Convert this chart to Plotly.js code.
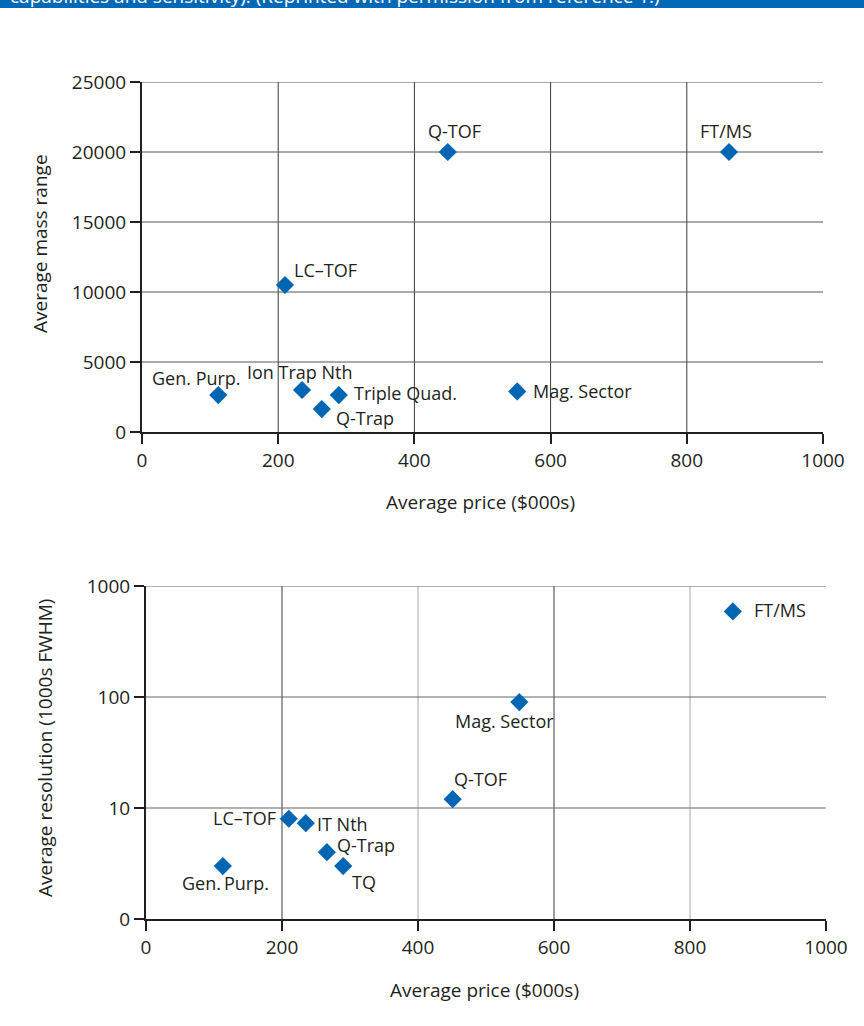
<!DOCTYPE html>
<html>
<head>
<meta charset="utf-8">
<script src="https://cdn.plot.ly/plotly-3.0.1.min.js"></script>
<style>html,body{margin:0;padding:0;background:#fff;}#chart{width:864px;height:1026px;}</style>
</head>
<body>
<div id="chart"></div>
<script>
// ---- Data ----
const topNames = ["Gen. Purp.", "LC\u2013TOF", "Ion Trap Nth", "Triple Quad.", "Q-Trap", "Q-TOF", "Mag. Sector", "FT/MS"];
const topPrice = [112, 210, 235, 289, 264, 449, 551, 862];
const topMassRange = [2640, 10500, 3000, 2640, 1640, 20000, 2900, 20000];

const botNames = ["FT/MS", "Mag. Sector", "Q-TOF", "LC\u2013TOF", "IT Nth", "Q-Trap", "TQ", "Gen.\u2009Purp."];
const botPrice = [863, 549, 451, 210, 235, 266, 290, 113];
const botResolution = [590, 90, 12, 8, 7.3, 4.0, 3.0, 3.0];

const xTickVals = [0, 200, 400, 600, 800, 1000];
const topYTickVals = [0, 5000, 10000, 15000, 20000, 25000];
const topYTickText = ["0", "5000", "10000", "15000", "20000", "25000"];
const botYTickVals = [1, 10, 100, 1000];
const botYTickText = ["0", "10", "100", "1000"];

const bannerText = "capabilities and sensitivity). (Reprinted with permission from reference 1.)";

// label placement (style only)
const topLabelPos = [
  {xa:"center", dx:-22, dy:17},
  {xa:"center", dx:40, dy:15},
  {xa:"center", dx:-2, dy:18},
  {xa:"left", dx:13, dy:2},
  {xa:"left", dx:12, dy:-9},
  {xa:"center", dx:7, dy:21},
  {xa:"left", dx:14, dy:0},
  {xa:"center", dx:-3, dy:21}
];
const botLabelPos = [
  {xa:"left", dx:19, dy:1},
  {xa:"center", dx:-15, dy:-19},
  {xa:"left", dx:-1, dy:20},
  {xa:"right", dx:-11, dy:1},
  {xa:"left", dx:9, dy:-1},
  {xa:"left", dx:8, dy:7},
  {xa:"left", dx:7, dy:-16},
  {xa:"center", dx:3, dy:-17}
];

const FONT = "Open Sans, Noto Sans, sans-serif";
const TXT = "#231f20";
const BLUE = "#0066b3";
const W = 864, H = 1026;
const LBL = 18;

const traces = [
  {x: topPrice, y: topMassRange, xaxis:"x", yaxis:"y", mode:"markers", type:"scatter",
   marker:{symbol:"diamond", size:14, color:BLUE}, hoverinfo:"none", cliponaxis:false},
  {x: botPrice, y: botResolution, xaxis:"x2", yaxis:"y2", mode:"markers", type:"scatter",
   marker:{symbol:"diamond", size:14, color:BLUE}, hoverinfo:"none", cliponaxis:false}
];

const annotations = [];
topNames.forEach((n,i)=>{
  const p = topLabelPos[i];
  annotations.push({x: topPrice[i], y: topMassRange[i], xref:"x", yref:"y", text:n, showarrow:false,
    xanchor:p.xa, yanchor:"middle", xshift:p.dx, yshift:p.dy, font:{family:FONT, size:LBL, color:TXT}});
});
botNames.forEach((n,i)=>{
  const p = botLabelPos[i];
  annotations.push({x: botPrice[i], y: Math.log10(botResolution[i]), xref:"x2", yref:"y2", text:n, showarrow:false,
    xanchor:p.xa, yanchor:"middle", xshift:p.dx, yshift:p.dy, font:{family:FONT, size:LBL, color:TXT}});
});
// axis titles
annotations.push({text:"Average price ($000s)", xref:"paper", yref:"paper", x:480/W, y:1-502/H, showarrow:false,
  xanchor:"center", yanchor:"middle", font:{family:FONT, size:19, color:TXT}});
annotations.push({text:"Average mass range", xref:"paper", yref:"paper", x:40/W, y:1-244/H, showarrow:false,
  textangle:-90, xanchor:"center", yanchor:"middle", font:{family:FONT, size:19, color:TXT}});
annotations.push({text:"Average price ($000s)", xref:"paper", yref:"paper", x:484/W, y:1-990/H, showarrow:false,
  xanchor:"center", yanchor:"middle", font:{family:FONT, size:19, color:TXT}});
annotations.push({text:"Average resolution (1000s FWHM)", xref:"paper", yref:"paper", x:45/W, y:1-748/H, showarrow:false,
  textangle:-90, xanchor:"center", yanchor:"middle", font:{family:FONT, size:19, color:TXT}});
// banner text (cut off at top, as in the reference)
annotations.push({text:bannerText, xref:"paper", yref:"paper", x:8/W, y:1+4/H, showarrow:false,
  xanchor:"left", yanchor:"middle", font:{family:FONT, size:19, color:"#ffffff"}});

const axisCommon = {
  showline:true, linecolor:"#231f20", linewidth:2, ticks:"outside", ticklen:10, tickwidth:2, tickcolor:"#231f20",
  showgrid:false, zeroline:false, tickfont:{family:FONT, size:19, color:TXT}
};

// grid lines derived from the tick arrays
const shapes = [
  {type:"rect", xref:"paper", yref:"paper", x0:0, x1:1, y0:1-8/H, y1:1.01, fillcolor:"#0068b4", line:{width:0}, layer:"below"}
];
xTickVals.slice(1, -1).forEach(v=>{
  shapes.push({type:"line", xref:"x", yref:"y domain", x0:v, x1:v, y0:0, y1:1, line:{color:"#3a3a3a", width:1}, layer:"below"});
});
topYTickVals.slice(1).forEach(v=>{
  shapes.push({type:"line", xref:"x domain", yref:"y", x0:0, x1:1, y0:v, y1:v, line:{color:"#555555", width:1}, layer:"below"});
});
xTickVals.slice(1, -1).forEach((v,i)=>{
  shapes.push({type:"line", xref:"x2", yref:"y2 domain", x0:v, x1:v, y0:0, y1:1,
    line:{color: i % 2 === 0 ? "#3a3a3a" : "#a8a8a8", width:1}, layer:"below"});
});
botYTickVals.slice(1).forEach(v=>{
  shapes.push({type:"line", xref:"x2 domain", yref:"y2", x0:0, x1:1, y0:v, y1:v, line:{color:"#666666", width:1}, layer:"below"});
});

const layout = {
  width: W, height: H,
  margin:{l:0, r:0, t:0, b:0},
  paper_bgcolor:"#ffffff", plot_bgcolor:"#ffffff",
  showlegend:false,
  xaxis: Object.assign({}, axisCommon, {domain:[142/W, 823/W], range:[0,1000], tickmode:"array", tickvals:xTickVals, anchor:"y"}),
  yaxis: Object.assign({}, axisCommon, {domain:[1-432/H, 1-82/H], range:[0,25000], tickmode:"array", tickvals:topYTickVals, ticktext:topYTickText, anchor:"x"}),
  xaxis2: Object.assign({}, axisCommon, {domain:[146/W, 826/W], range:[0,1000], tickmode:"array", tickvals:xTickVals, anchor:"y2"}),
  yaxis2: Object.assign({}, axisCommon, {domain:[1-919/H, 1-586/H], type:"log", range:[0,3], tickmode:"array", tickvals:botYTickVals, ticktext:botYTickText, anchor:"x2"}),
  shapes: shapes,
  annotations: annotations
};

Plotly.newPlot("chart", traces, layout, {staticPlot:true, displayModeBar:false});
</script>
</body>
</html>
